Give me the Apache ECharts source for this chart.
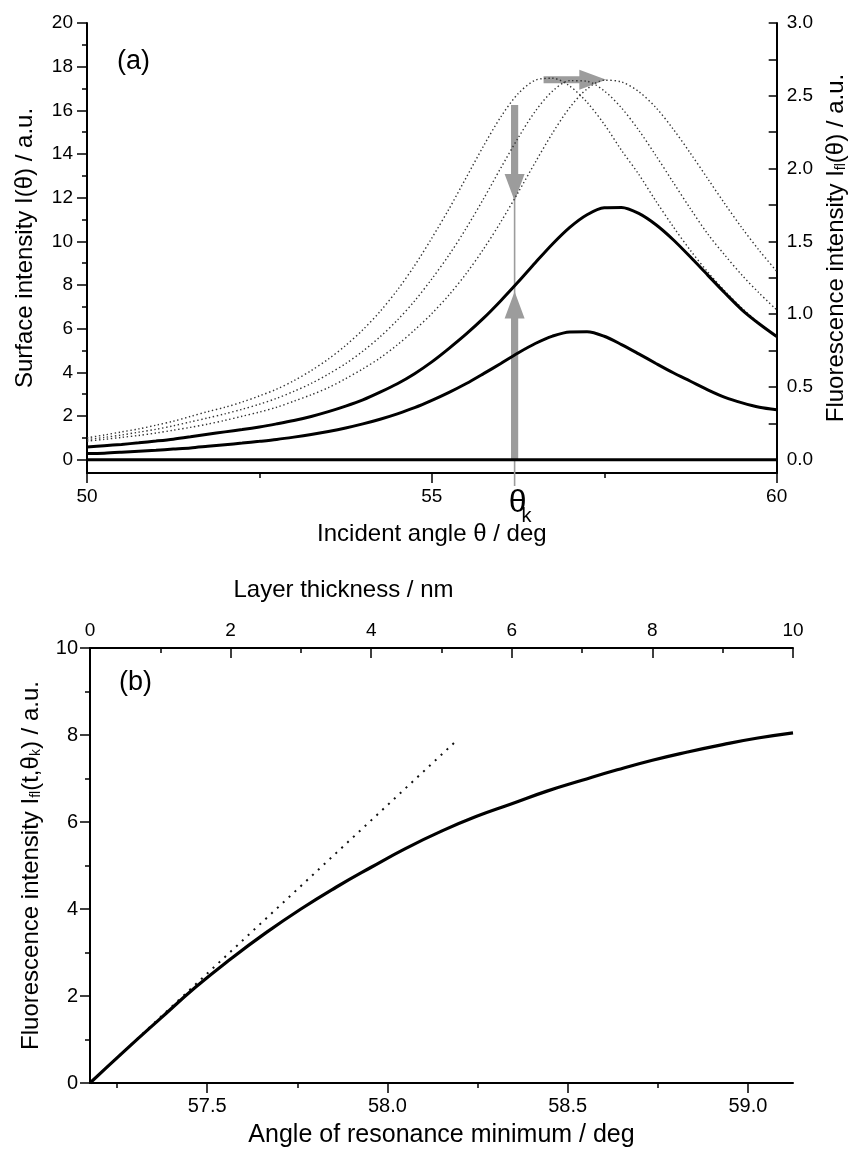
<!DOCTYPE html>
<html>
<head>
<meta charset="utf-8">
<title>Surface and fluorescence intensity</title>
<script src="https://cdn.jsdelivr.net/npm/echarts@6/dist/echarts.min.js"></script>
<style>
  html, body { margin: 0; padding: 0; background: #fff; }
  #chart { width: 856px; height: 1173px; }
</style>
</head>
<body>
<div id="chart"></div>
<script>
// ---- Panel (a): intensity vs incident angle ----
const thetaA = [50, 50.25, 50.5, 50.75, 51, 51.25, 51.5, 51.75, 52, 52.25,
                52.5, 52.75, 53, 53.25, 53.5, 53.75, 54, 54.25, 54.5, 54.75,
                55, 55.25, 55.5, 55.75, 56, 56.25, 56.5, 56.75, 57, 57.25,
                57.5, 57.75, 58, 58.25, 58.5, 58.75, 59, 59.25, 59.5, 59.75, 60];
// surface intensity I(θ), left axis (a.u.)
const surface1 = [1.00, 1.13, 1.27, 1.41, 1.58, 1.76, 1.98, 2.20, 2.40, 2.64,
                  2.92, 3.23, 3.62, 4.08, 4.61, 5.23, 5.95, 6.79, 7.77, 8.89,
                  10.15, 11.49, 12.93, 14.37, 15.70, 16.76, 17.38, 17.47, 17.11, 16.37,
                  15.36, 14.17, 13.07, 11.84, 10.67, 9.58, 8.60, 7.72, 6.93, 6.24, 5.63];
const surface2 = [0.92, 1.02, 1.13, 1.26, 1.39, 1.55, 1.73, 1.91, 2.10, 2.31,
                  2.54, 2.81, 3.13, 3.49, 3.92, 4.40, 4.97, 5.63, 6.39, 7.27,
                  8.28, 9.38, 10.61, 11.95, 13.36, 14.73, 15.96, 16.88, 17.36, 17.33,
                  16.89, 16.11, 15.09, 13.92, 12.70, 11.49, 10.34, 9.36, 8.44, 7.62, 6.86];
const surface3 = [0.85, 0.93, 1.02, 1.11, 1.22, 1.35, 1.48, 1.63, 1.80, 1.99,
                  2.18, 2.40, 2.68, 2.97, 3.30, 3.71, 4.16, 4.66, 5.26, 5.94,
                  6.69, 7.55, 8.53, 9.65, 10.89, 12.23, 13.62, 14.96, 16.13, 16.98,
                  17.38, 17.30, 16.86, 16.12, 15.14, 14.03, 12.87, 11.71, 10.60, 9.57, 8.63];
// fluorescence intensity I_fl(θ), right axis (a.u.)
const fluorHigh = [0.087, 0.096, 0.105, 0.116, 0.128, 0.141, 0.157, 0.174, 0.191, 0.207,
                   0.225, 0.246, 0.269, 0.297, 0.330, 0.368, 0.411, 0.464, 0.522, 0.591,
                   0.672, 0.765, 0.864, 0.972, 1.092, 1.220, 1.353, 1.482, 1.596, 1.683,
                   1.731, 1.733, 1.692, 1.614, 1.511, 1.392, 1.268, 1.145, 1.028, 0.932, 0.846];
const fluorLow  = [0.042, 0.045, 0.051, 0.058, 0.065, 0.073, 0.081, 0.092, 0.103, 0.114,
                   0.126, 0.139, 0.155, 0.173, 0.194, 0.218, 0.246, 0.278, 0.315, 0.357,
                   0.407, 0.462, 0.523, 0.591, 0.661, 0.733, 0.798, 0.849, 0.878, 0.879,
                   0.848, 0.791, 0.727, 0.661, 0.597, 0.539, 0.480, 0.428, 0.390, 0.360, 0.343];
const baselineA = [[50, 0], [60, 0]];

// angle θk and the shift arrows: [tail, tip]
const thetaK = 56.2;
const guideTop = 16.25, guideBottom = -1.2;
const arrows = [
  [[56.2, 16.25], [56.2, 11.85]],
  [[56.2, 0.0], [56.2, 7.7]],
  [[56.62, 17.4], [57.53, 17.4]]
];

// axis scales of panel (a)
const leftTicksA = [0, 2, 4, 6, 8, 10, 12, 14, 16, 18, 20];
const leftMinorA = [1, 3, 5, 7, 9, 11, 13, 15, 17, 19];
const rightLabelsA = [0, 0.5, 1.0, 1.5, 2.0, 2.5, 3.0];
const rightTicksA = [0, 0.25, 0.5, 0.75, 1.0, 1.25, 1.5, 1.75, 2.0, 2.25, 2.5, 2.75, 3.0];
const leftRangeA = [-0.61, 20];
const rightRangeA = [-0.0915, 3.0];

// ---- Panel (b): fluorescence vs layer thickness ----
const thickness = [0, 0.5, 1, 1.5, 2, 2.5, 3, 3.5, 4, 4.5, 5,
                   5.5, 6, 6.5, 7, 7.5, 8, 8.5, 9, 9.5, 10];
const fluorT = [0, 0.75, 1.48, 2.20, 2.85, 3.45, 4.00, 4.50, 4.96, 5.40, 5.79,
                6.13, 6.42, 6.71, 6.96, 7.20, 7.42, 7.61, 7.78, 7.93, 8.05];
const tangentLine = [[0, 0], [5.2, 7.85]];
const angleRangeB = [57.175, 59.125];
const angleTicksB = [57.5, 58.0, 58.5, 59.0];
const angleMinorB = [57.25, 57.75, 58.25, 58.75];

const FONT = "'Liberation Sans', Arial, Helvetica, sans-serif";
const BLACK = '#000';
const ARROW = '#9c9c9c';

const zip = (xs, ys) => xs.map((x, i) => [x, ys[i]]);

function lineAxis() {
  return { onZero: false, lineStyle: { color: BLACK, width: 2 } };
}
function tick(len, inside, values) {
  const t = { show: true, length: len, inside: !!inside, lineStyle: { color: BLACK, width: 1.5 } };
  if (values) t.customValues = values;
  return t;
}
function label(size, margin, extra) {
  return Object.assign({ color: BLACK, fontFamily: FONT, fontSize: size, margin: margin }, extra || {});
}
const nameStyle = (extra) => Object.assign({
  color: BLACK, fontFamily: FONT, fontSize: 24,
  rich: {
    sub: { fontFamily: FONT, fontSize: 14, verticalAlign: 'bottom', lineHeight: 14, color: BLACK }
  }
}, extra || {});
const minor = () => ({ show: true, splitNumber: 2, length: 5, lineStyle: { color: BLACK, width: 1.5 } });

const option = {
  animation: false,
  backgroundColor: '#fff',
  grid: [
    { left: 87, right: 74, top: 23, height: 450 },
    { left: 90, right: 63, top: 648, height: 435 }
  ],
  xAxis: [
    { // (a) incident angle
      type: 'value', gridIndex: 0, position: 'bottom', min: 50, max: 60, interval: 5,
      axisLine: lineAxis(), axisTick: tick(10, false), minorTick: minor(),
      splitLine: { show: false }, minorSplitLine: { show: false },
      axisLabel: label(19, 14),
      name: 'Incident angle θ / deg', nameLocation: 'middle', nameGap: 49,
      nameTextStyle: nameStyle()
    },
    { // (b) resonance angle, major ticks
      type: 'value', gridIndex: 1, position: 'bottom', min: angleRangeB[0], max: angleRangeB[1],
      axisLine: lineAxis(), axisTick: tick(10, false, angleTicksB),
      splitLine: { show: false },
      axisLabel: label(20, 13, { customValues: angleTicksB, formatter: v => v.toFixed(1) }),
      name: 'Angle of resonance minimum / deg', nameLocation: 'middle', nameGap: 40,
      nameTextStyle: nameStyle({ fontSize: 25 })
    },
    { // (b) resonance angle, minor ticks
      type: 'value', gridIndex: 1, position: 'bottom', min: angleRangeB[0], max: angleRangeB[1],
      axisLine: { show: false, onZero: false }, axisTick: tick(5, false, angleMinorB),
      splitLine: { show: false }, axisLabel: { show: false }
    },
    { // (b) layer thickness
      type: 'value', gridIndex: 1, position: 'top', min: 0, max: 10, interval: 2,
      axisLine: lineAxis(), axisTick: tick(10, true), minorTick: minor(),
      splitLine: { show: false }, minorSplitLine: { show: false },
      axisLabel: label(19, 8),
      name: 'Layer thickness / nm', nameLocation: 'middle', nameGap: 46,
      nameTextStyle: nameStyle({ padding: [0, 196, 0, 0] })
    }
  ],
  yAxis: [
    { // (a) surface intensity
      type: 'value', gridIndex: 0, position: 'left', min: leftRangeA[0], max: leftRangeA[1],
      axisLine: lineAxis(), axisTick: tick(10, false, leftTicksA),
      splitLine: { show: false },
      axisLabel: label(19, 14, { customValues: leftTicksA }),
      name: 'Surface intensity I(θ) / a.u.', nameLocation: 'middle', nameGap: 50,
      nameTextStyle: nameStyle()
    },
    { // (a) minor ticks
      type: 'value', gridIndex: 0, position: 'left', min: leftRangeA[0], max: leftRangeA[1],
      axisLine: { show: false, onZero: false }, axisTick: tick(5, false, leftMinorA),
      splitLine: { show: false }, axisLabel: { show: false }
    },
    { // (a) fluorescence intensity
      type: 'value', gridIndex: 0, position: 'right', min: rightRangeA[0], max: rightRangeA[1],
      axisLine: lineAxis(), axisTick: tick(8, true, rightTicksA),
      splitLine: { show: false },
      axisLabel: label(19, 10, { customValues: rightLabelsA, formatter: v => v.toFixed(1) }),
      name: 'Fluorescence intensity I{sub|fl}(θ) / a.u.', nameLocation: 'middle', nameGap: 44,
      nameTextStyle: nameStyle()
    },
    { // (b) fluorescence intensity
      type: 'value', gridIndex: 1, position: 'left', min: 0, max: 10, interval: 2,
      axisLine: lineAxis(), axisTick: tick(10, false), minorTick: minor(),
      splitLine: { show: false }, minorSplitLine: { show: false },
      axisLabel: label(20, 12),
      name: 'Fluorescence intensity I{sub|fl}(t,θ{sub|k}) / a.u.', nameLocation: 'middle', nameGap: 47,
      nameTextStyle: nameStyle()
    }
  ],
  graphic: [
    { type: 'text', left: 117, top: 48, style: { text: '(a)', fontFamily: FONT, fontSize: 27, fill: BLACK } },
    { type: 'text', left: 119, top: 669, style: { text: '(b)', fontFamily: FONT, fontSize: 27, fill: BLACK } }
  ],
  series: [
    { // shift arrows
      type: 'custom', xAxisIndex: 0, yAxisIndex: 0, silent: true, z: 1,
      data: arrows.map(a => [a[0][0], a[0][1], a[1][0], a[1][1]]),
      renderItem: function (params, api) {
        const p0 = api.coord([api.value(0), api.value(1)]);
        const p1 = api.coord([api.value(2), api.value(3)]);
        const dx = p1[0] - p0[0], dy = p1[1] - p0[1];
        const len = Math.sqrt(dx * dx + dy * dy);
        const ux = dx / len, uy = dy / len, nx = -uy, ny = ux;
        const head = 27, hw = 10, sw = 3.6;
        const bx = p1[0] - ux * head, by = p1[1] - uy * head;
        const pts = [
          [p0[0] + nx * sw, p0[1] + ny * sw],
          [bx + nx * sw, by + ny * sw],
          [bx + nx * hw, by + ny * hw],
          [p1[0], p1[1]],
          [bx - nx * hw, by - ny * hw],
          [bx - nx * sw, by - ny * sw],
          [p0[0] - nx * sw, p0[1] - ny * sw]
        ];
        return { type: 'polygon', shape: { points: pts }, style: { fill: ARROW } };
      }
    },
    { // θk guide line and its label
      type: 'custom', xAxisIndex: 0, yAxisIndex: 0, silent: true, z: 1, clip: false,
      data: [[thetaK, guideTop, guideBottom]],
      renderItem: function (params, api) {
        const top = api.coord([api.value(0), api.value(1)]);
        const bot = api.coord([api.value(0), api.value(2)]);
        return {
          type: 'group',
          children: [
            { type: 'line', shape: { x1: top[0], y1: top[1], x2: bot[0], y2: bot[1] },
              style: { stroke: ARROW, lineWidth: 1.6 } },
            { type: 'text', x: bot[0] + 3, y: bot[1] + 17,
              style: { text: 'θ', fontFamily: FONT, fontSize: 32, fill: BLACK, align: 'center', verticalAlign: 'middle' } },
            { type: 'text', x: bot[0] + 12, y: bot[1] + 31,
              style: { text: 'k', fontFamily: FONT, fontSize: 20, fill: BLACK, align: 'center', verticalAlign: 'middle' } }
          ]
        };
      }
    },
    { type: 'line', xAxisIndex: 0, yAxisIndex: 0, data: baselineA, symbol: 'none', z: 3,
      lineStyle: { color: BLACK, width: 3 } },
    { type: 'line', xAxisIndex: 0, yAxisIndex: 0, data: zip(thetaA, surface1), symbol: 'none', smooth: 0.3, z: 3,
      lineStyle: { color: '#333', width: 1.4, type: [1.4, 2.6] } },
    { type: 'line', xAxisIndex: 0, yAxisIndex: 0, data: zip(thetaA, surface2), symbol: 'none', smooth: 0.3, z: 3,
      lineStyle: { color: '#333', width: 1.4, type: [1.4, 2.6] } },
    { type: 'line', xAxisIndex: 0, yAxisIndex: 0, data: zip(thetaA, surface3), symbol: 'none', smooth: 0.3, z: 3,
      lineStyle: { color: '#333', width: 1.4, type: [1.4, 2.6] } },
    { type: 'line', xAxisIndex: 0, yAxisIndex: 2, data: zip(thetaA, fluorHigh), symbol: 'none', smooth: 0.3, z: 4,
      lineStyle: { color: BLACK, width: 3 } },
    { type: 'line', xAxisIndex: 0, yAxisIndex: 2, data: zip(thetaA, fluorLow), symbol: 'none', smooth: 0.3, z: 4,
      lineStyle: { color: BLACK, width: 3 } },
    { type: 'line', xAxisIndex: 3, yAxisIndex: 3, data: tangentLine, symbol: 'none', z: 3,
      lineStyle: { color: '#111', width: 2, type: [2, 6] } },
    { type: 'line', xAxisIndex: 3, yAxisIndex: 3, data: zip(thickness, fluorT), symbol: 'none', smooth: true, z: 4,
      lineStyle: { color: BLACK, width: 3.2 } }
  ]
};

const chart = echarts.init(document.getElementById('chart'), null, { renderer: 'canvas' });
chart.setOption(option);
</script>
</body>
</html>
